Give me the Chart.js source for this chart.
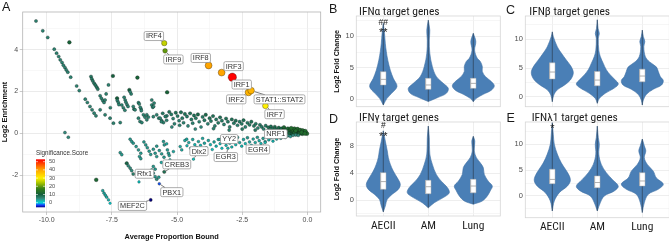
<!DOCTYPE html>
<html><head><meta charset="utf-8">
<script src="https://cdn.jsdelivr.net/npm/chart.js@4.4.1/dist/chart.umd.min.js"></script>
<style>
html,body{margin:0;padding:0;background:#fff;width:669px;height:242px;overflow:hidden;position:relative;}
canvas{position:absolute;}
</style></head><body>
<canvas id="cA" style="left:0;top:0" width="328" height="242"></canvas>
<canvas id="cB" style="left:328px;top:0" width="177" height="121"></canvas>
<canvas id="cC" style="left:505px;top:0" width="165" height="121"></canvas>
<canvas id="cD" style="left:328px;top:110px" width="177" height="132"></canvas>
<canvas id="cE" style="left:505px;top:110px" width="165" height="132"></canvas>
<script>
// ---------------- Panel A data: [Average Proportion Bound, Log2 Enrichment, Significance.Score]
const ptsUpperLeft = [
[-10.41,5.37,6],[-10.15,4.90,6],[-9.96,4.58,6],[-9.13,4.35,11],[-9.71,4.02,6],[-9.62,3.83,6],[-9.54,3.67,6],[-9.48,3.51,6],[-9.41,3.38,6],[-9.36,3.25,6],[-9.30,3.14,6],[-9.25,3.03,6],[-9.19,2.92,6],[-9.08,2.68,6],[-8.85,2.26,6],[-8.75,2.04,6],[-8.52,1.63,6],[-8.44,1.47,6],[-8.34,1.28,6],[-8.26,1.12,6],[-8.18,0.96,6],[-8.11,0.83,6],[-9.30,0.03,5],[-9.17,-0.19,5]
];
const ptsMiddle = [
[-8.30,2.71,7],[-8.27,2.60,7],[-8.23,2.50,7],[-8.18,2.39,7],[-8.13,2.30,7],[-8.08,2.20,7],[-8.04,2.11,7],[-7.95,1.79,6],[-7.90,1.67,6],[-7.85,1.56,6],[-7.80,1.47,6],[-7.76,1.59,6],[-7.63,2.31,6],[-7.46,2.74,10],[-7.56,1.22,6],[-7.30,1.67,10],[-7.12,1.35,6],[-7.06,1.22,6],[-6.83,2.07,10],[-6.76,1.88,6],[-6.65,1.15,6],[-6.52,2.66,11],[-6.48,1.46,6],[-6.38,1.16,6],[-5.97,1.35,6],[-5.93,1.24,6],[-5.88,1.44,6],[-5.38,1.96,11],[-7.72,1.88,6],[-7.95,1.12,6],[-7.76,0.88,6],[-7.57,0.72,6],[-7.44,0.48,6],[-7.29,1.56,6],[-7.25,1.47,6],[-7.23,1.37,6],[-7.03,1.72,6],[-6.99,1.59,6],[-6.96,1.48,6],[-6.92,1.37,6],[-6.88,1.28,6],[-6.80,1.98,6],[-6.68,1.28,6],[-6.61,1.12,6],[-6.45,1.40,6],[-6.41,1.24,6],[-6.37,1.08,6],[-6.29,0.88,6],[-6.23,0.77,6],[-5.97,1.59,6],[-5.90,1.28,6],[-5.78,0.88,6],[-5.70,0.72,6],[-6.16,0.64,6],[-7.18,0.51,6],[-7.00,1.10,6],[-6.48,0.72,6],[-6.42,0.56,6],[-6.35,0.51,6],[-6.16,0.88,6],[-6.10,0.77,6],[-5.91,0.79,6],[-5.65,0.72,6],[-5.59,0.60,6],[-5.52,0.51,6],[-5.39,0.83,6]
];
const ptsLowerLeft = [
[-6.80,-0.29,4],[-6.74,-0.40,4],[-6.68,-0.48,4],[-6.57,-0.64,4],[-6.48,-0.80,4],[-6.39,-0.96,4],[-6.27,-0.42,4],[-6.20,-0.56,4],[-6.14,-0.70,4],[-6.07,-0.86,4],[-6.01,-1.02,4],[-5.91,-0.77,4],[-5.84,-0.96,4],[-5.78,-1.12,4],[-7.18,-0.93,4],[-7.12,-1.03,4],[-6.93,-1.44,9],[-6.87,-1.56,5],[-6.80,-1.67,5],[-6.74,-1.79,5],[-6.46,-2.33,1],[-6.44,-1.12,4],[-6.39,-1.22,4],[-5.52,-0.40,4],[-5.49,-0.56,4],[-5.37,-0.80,4],[-5.33,-0.96,4],[-5.30,-1.07,4],[-5.97,-1.76,4],[-5.91,-1.91,4],[-5.84,-2.08,4],[-5.78,-2.20,5],[-5.70,-2.11,4],[-5.91,-1.59,4],[-5.84,-1.72,4],[-5.78,-0.62,4],[-5.68,-0.83,4],[-5.59,-0.99,4],[-5.50,-1.15,4],[-5.40,-0.51,3],[-5.27,-1.28,3],[-5.20,-1.44,3],[-4.88,-0.64,3],[-4.82,-0.80,3],[-5.14,-0.88,3],[-4.63,-0.29,3],[-5.45,-1.60,3],[-5.60,-1.40,3],[-8.10,-2.23,12],[-7.85,-2.75,3],[-7.80,-2.87,3],[-7.75,-2.97,3],[-7.70,-3.06,3],[-7.63,-3.19,2],[-7.57,-3.35,0]
];
const ptsUpperBand = [
[-5.55,0.95,7],[-5.45,0.80,7],[-5.40,0.62,6],[-5.30,1.02,8],[-5.22,0.90,7],[-5.15,0.70,6],[-5.10,0.45,6],[-5.05,0.98,8],[-4.98,0.82,7],[-4.92,0.60,6],[-4.85,1.00,8],[-4.80,0.72,7],[-4.75,0.50,6],[-4.70,0.92,8],[-4.62,0.80,7],[-4.58,0.35,5],[-4.50,0.95,8],[-4.45,0.66,7],[-4.40,0.48,6],[-4.35,0.85,8],[-4.28,0.72,7],[-4.20,0.90,9],[-4.15,0.55,6],[-4.08,0.30,5],[-4.02,0.78,7],[-3.95,0.62,7],[-3.90,0.88,9],[-3.82,0.45,6],[-3.75,0.72,8],[-3.70,0.58,7],[-3.62,0.82,8],[-3.55,0.35,6],[-3.50,0.66,7],[-3.42,0.50,7],[-3.35,0.76,8],[-3.28,0.60,7],[-3.20,0.42,6],[-3.12,0.70,8],[-3.05,0.55,7],[-2.98,0.30,6],[-2.90,0.66,8],[-2.82,0.48,7],[-2.75,0.60,8],[-2.68,0.38,6],[-2.60,0.55,7],[-2.52,0.45,7],[-2.45,0.62,8],[-2.38,0.30,6],[-2.30,0.50,7],[-2.22,0.40,7],[-2.15,0.55,8],[-2.05,0.35,7],[-1.98,0.45,7],[-1.90,0.25,6],[-1.82,0.40,7],[-1.75,0.30,7],[-1.68,0.20,6],[-1.60,0.36,7],[-5.60,0.55,6],[-5.20,0.30,5],[-4.90,0.38,6],[-4.30,0.20,5],[-3.60,0.22,6],[-3.00,0.15,6],[-2.50,0.20,7],[-2.00,0.15,7]
];
const ptsNearZero = [
[-1.50,0.28,8],[-1.45,0.15,7],[-1.40,0.32,8],[-1.35,0.22,8],[-1.30,0.10,7],[-1.25,0.30,9],[-1.20,0.18,8],[-1.15,0.05,7],[-1.10,0.26,9],[-1.05,0.14,8],[-1.00,0.22,9],[-0.95,0.08,8],[-0.90,0.28,12],[-0.85,0.16,12],[-0.80,0.02,10],[-0.75,0.22,12],[-0.70,0.10,12],[-0.65,0.18,13],[-0.60,0.05,12],[-0.55,0.14,13],[-0.50,0.22,13],[-0.45,0.08,13],[-0.40,0.16,13],[-0.35,0.02,12],[-0.30,0.12,13],[-0.25,0.06,13],[-0.20,0.10,13],[-0.15,0.02,13],[-0.10,0.05,13],[-0.05,0.01,13],[-0.02,-0.02,13],[-0.60,-0.05,10],[-0.40,-0.04,10],[-0.20,-0.03,12],[-0.90,-0.05,7],[-1.20,-0.06,6],[-0.12,0.08,13],[-0.30,-0.01,12],[-0.70,0.00,10],[-0.50,0.02,12],[-0.62,0.24,13],[-0.38,0.20,13],[-0.28,0.15,13],[-0.18,0.13,13],[-0.08,0.10,13],[-0.45,0.12,13],[-0.22,0.04,13],[-0.10,-0.01,13]
];
const ptsLowerBand = [
[-4.70,-0.35,3],[-4.62,-0.60,2],[-4.55,-0.45,3],[-4.48,-0.72,2],[-4.40,-0.30,3],[-4.32,-0.55,2],[-4.25,-0.68,2],[-4.18,-0.40,3],[-4.10,-0.58,2],[-4.02,-0.25,3],[-3.95,-0.48,3],[-3.88,-0.70,2],[-3.80,-0.35,3],[-3.72,-0.55,2],[-3.65,-0.78,1],[-3.58,-0.42,3],[-3.50,-0.62,2],[-3.42,-0.30,3],[-3.35,-0.50,2],[-3.28,-0.72,1],[-3.20,-0.40,3],[-3.12,-0.58,2],[-3.05,-0.25,3],[-2.98,-0.48,2],[-2.90,-0.66,2],[-2.82,-0.35,3],[-2.75,-0.55,2],[-2.68,-0.20,4],[-2.60,-0.45,3],[-2.52,-0.62,2],[-2.45,-0.30,3],[-2.38,-0.50,2],[-2.30,-0.22,4],[-2.22,-0.42,3],[-2.15,-0.58,2],[-2.08,-0.28,3],[-2.00,-0.45,3],[-1.92,-0.20,4],[-1.85,-0.36,3],[-1.78,-0.50,2],[-1.70,-0.25,4],[-1.62,-0.40,3],[-1.55,-0.18,4],[-1.48,-0.32,3],[-1.40,-0.22,4],[-1.32,-0.38,2],[-1.25,-0.15,5],[-1.18,-0.28,3],[-1.10,-0.12,5],[-1.02,-0.24,4],[-0.95,-0.10,5],[-0.85,-0.20,4],[-0.75,-0.12,5],[-0.65,-0.16,4],[-0.55,-0.10,5],[-0.45,-0.08,5],[-0.35,-0.10,5]
];
const geneNames = ['IRF4','IRF9','IRF8','IRF3','IRF1','IRF2','STAT1::STAT2','IRF7','NRF1','YY2','EGR4','EGR3','Dlx2','CREB3','Rfx1','PBX1','MEF2C'];
const geneX = [-5.49,-5.46,-3.79,-3.29,-2.88,-2.26,-2.16,-1.61,-0.95,-3.35,-1.62,-3.05,-4.37,-5.49,-6.68,-5.68,-6.01];
const geneY = [4.31,3.94,3.24,2.90,2.68,1.95,2.04,1.31,0.12,-0.30,-0.45,-0.72,-1.24,-1.85,-1.95,-2.42,-3.19];
const geneScore = [26,20,40,40,53,38,38,30,10,3,2,2,1,8,6,-2.5,-5.6];
const xTickVals = [-10,-8.75,-7.5,-6.25,-5,-3.75,-2.5,-1.25,0];
const yTickVals = [-3,-2,-1,0,1,2,3,4,5];
const legendTicks = [0,10,20,30,40,50];

// ---------------- Violin data (categories; outlines as [y, half-width]; box stats)
const categories = ['AECII','AM','Lung'];
const ifnaAECII = [[-0.96,0],[0.1,3.7],[0.9,8.3],[2.0,13.7],[3.3,10],[4.6,7],[6.2,4.5],[7.6,3],[8.9,2],[10.5,1.2],[12.1,0]];
const ifnaAM    = [[-0.4,0],[0.27,10],[0.9,18],[1.7,20],[2.5,15],[3.6,8],[5.2,4],[7.3,1.5],[9.4,1],[11.0,1.5],[12.6,0]];
const ifnaLung  = [[-0.43,0],[0.1,3],[0.75,10],[1.4,18],[2.1,21],[2.8,18],[3.6,12],[4.4,9],[5.2,9],[6.0,7],[6.5,4],[7.8,1.3],[9.2,2.5],[10.5,0]];
const ifnbAECII = [[-0.87,0],[0.3,1.5],[1.2,5],[2.0,12],[2.9,18],[4.1,21],[5.2,19],[6.4,14],[7.6,9],[8.7,5],[10.5,1],[11.3,0]];
const ifnbAM    = [[-1.15,0],[-0.3,2],[0.6,8],[1.5,17],[2.2,21],[2.9,18],[3.8,13],[4.7,9],[5.8,6],[7.0,3],[8.1,1.5],[10.2,1],[11.0,2],[11.9,0.8],[13.4,0]];
const ifnbLung  = [[-1.45,0],[-0.6,1],[0.4,4],[1.3,11],[2.0,19],[2.8,21],[3.5,18],[4.4,16],[5.2,14],[6.1,7],[7.0,3],[8.7,1.5],[9.6,2.5],[10.5,1],[11.6,0]];
const ifngAECII = [[-1.7,0],[-0.84,2],[0.15,4],[0.9,9],[1.6,15],[2.35,17],[3.3,14],[4.3,10],[5.3,7],[6.3,5],[7.25,4],[8.7,2],[10.2,0]];
const ifngAM    = [[-1.1,0],[-0.35,6],[0.4,15],[1.1,21],[1.9,19],[2.8,13],[3.8,8],[5.3,4],[6.8,1.5],[9.2,1],[10.9,0]];
const ifngLung  = [[-0.57,0],[-0.1,9],[0.63,14],[1.4,17],[2.1,19],[2.8,15],[3.8,11],[4.8,10],[5.5,7],[6.3,3],[7.25,1],[8.7,1.5],[9.4,0]];
const ifnlAECII = [[-2.9,0],[-0.97,2],[0.64,7],[1.9,15],[2.9,18],[3.9,17],[5.2,13],[6.4,9],[8.1,5],[10.0,2],[11.9,1],[14.2,0]];
const ifnlAM    = [[-2.9,0],[-1.3,3],[0.0,7],[0.97,17],[1.9,21],[3.2,15],[4.5,9],[6.1,4],[8.1,1.5],[10.0,2],[11.3,1],[13.5,0]];
const ifnlLung  = [[-3.2,0],[-1.3,2],[0.33,6],[1.3,16],[2.3,21],[3.5,14],[4.8,11],[6.1,5],[7.4,2],[8.7,3.5],[9.7,2],[11.0,0]];
const ifnaQ1 = [2.24,1.55,1.7], ifnaMed = [3.14,2.24,2.5], ifnaQ3 = [4.36,3.3,3.3];
const ifnbQ1 = [3.1,1.9,2.6],   ifnbMed = [4.3,2.9,3.6],   ifnbQ3 = [5.9,4.4,4.8];
const ifngQ1 = [1.62,0.97,1.1], ifngMed = [2.75,2.0,2.1],  ifngQ3 = [4.06,2.94,3.08];
const ifnlQ1 = [2.38,1.6,1.93], ifnlMed = [3.2,2.6,2.9],   ifnlQ3 = [5.16,3.87,4.5];

// ---------------- styling helpers
const SANS = "'Liberation Sans', Arial, sans-serif";
const NARROW = "'Liberation Sans Narrow', 'Roboto Condensed', Roboto, 'Liberation Sans', sans-serif";
const cmapStops = [[-5.6,[0,0,128]],[-3,[20,60,255]],[0,[0,215,215]],[5,[50,140,125]],[10,[20,95,60]],[17,[50,125,25]],[24,[165,195,0]],[30,[255,240,0]],[40,[255,165,0]],[53,[255,0,0]]];
function cmap(s){
  if (s <= cmapStops[0][0]) return 'rgb('+cmapStops[0][1].join(',')+')';
  for (let i=1;i<cmapStops.length;i++){
    const [s1,c1]=cmapStops[i];
    if (s <= s1){ const [s0,c0]=cmapStops[i-1]; const t=(s-s0)/(s1-s0);
      return 'rgb('+c0.map((v,k)=>Math.round(v+(c1[k]-v)*t)).join(',')+')'; }
  }
  return 'rgb(255,0,0)';
}
const radiusFor = s => 1.25 + 0.055*Math.abs(s);
const allBg = [].concat(ptsUpperLeft, ptsMiddle, ptsLowerLeft, ptsUpperBand, ptsNearZero, ptsLowerBand);
const labelLayout = [[-5.89,4.65],[-5.14,3.53],[-4.09,3.60],[-2.83,3.21],[-2.52,2.33],[-2.73,1.62],[-1.07,1.62],[-1.26,0.91],[-1.21,-0.04],[-3.0,-0.28],[-1.90,-0.78],[-3.13,-1.14],[-4.16,-0.86],[-5.01,-1.49],[-6.25,-1.94],[-5.20,-2.82],[-6.71,-3.48]];

const isMajorX = v => Math.abs(v/2.5 - Math.round(v/2.5)) < 1e-6;
const isMajorY = v => Math.abs(v/2 - Math.round(v/2)) < 1e-6;

const panelAPlugin = {
  id:'panelA',
  afterDatasetsDraw(chart){
    const {ctx, scales:{x,y}} = chart;
    ctx.save();
    ctx.font = '7.3px '+SANS;
    const boxes = geneNames.map((name,i)=>{
      const px=x.getPixelForValue(geneX[i]), py=y.getPixelForValue(geneY[i]);
      const lx=x.getPixelForValue(labelLayout[i][0]), ly=y.getPixelForValue(labelLayout[i][1]);
      const w=ctx.measureText(name).width+3.6, h=9;
      return {name,px,py,lx,ly,w,h,r:radiusFor(geneScore[i])};
    });
    ctx.strokeStyle='#222'; ctx.lineWidth=0.6;
    boxes.forEach(b=>{
      const dx=b.px-b.lx, dy=b.py-b.ly;
      const t=Math.min(dx?(b.w/2)/Math.abs(dx):Infinity, dy?(b.h/2)/Math.abs(dy):Infinity);
      if (t<1){
        const sx=b.lx+dx*t, sy=b.ly+dy*t;
        const len=Math.hypot(b.px-sx,b.py-sy);
        if (len>3){
          const ex=b.px-(b.px-sx)/len*(b.r+0.5), ey=b.py-(b.py-sy)/len*(b.r+0.5);
          ctx.beginPath(); ctx.moveTo(sx,sy); ctx.lineTo(ex,ey); ctx.stroke();
        }
      }
    });
    boxes.forEach(b=>{
      ctx.beginPath(); ctx.roundRect(b.lx-b.w/2, b.ly-b.h/2, b.w, b.h, 1.5);
      ctx.fillStyle='#fff'; ctx.fill(); ctx.strokeStyle='#8a8a8a'; ctx.lineWidth=0.7; ctx.stroke();
      ctx.fillStyle='#333'; ctx.textAlign='center'; ctx.textBaseline='middle';
      ctx.fillText(b.name, b.lx, b.ly+0.4);
    });
    ctx.restore();
  },
  afterDraw(chart){
    const {ctx, chartArea:a} = chart;
    ctx.save();
    ctx.strokeStyle='#b3b3b3'; ctx.lineWidth=0.8;
    ctx.strokeRect(a.left, a.top, a.right-a.left, a.bottom-a.top);
    ctx.fillStyle='#111'; ctx.font='bold 7.4px '+SANS; ctx.textAlign='center'; ctx.textBaseline='middle';
    ctx.fillText('Average Proportion Bound', (a.left+a.right)/2, 237);
    ctx.save(); ctx.translate(5,(a.top+a.bottom)/2); ctx.rotate(-Math.PI/2);
    ctx.fillText('Log2 Enrichment',0,0); ctx.restore();
    ctx.font='12.5px '+SANS; ctx.textAlign='left'; ctx.textBaseline='alphabetic'; ctx.fillStyle='#111';
    ctx.fillText('A', 2, 10.5);
    const bx=36, bw=9, top=159.3, bot=207.3, smin=-5.6, smax=52.9;
    ctx.font='6.3px '+SANS; ctx.fillStyle='#333'; ctx.textBaseline='middle';
    ctx.fillText('Significance.Score', bx, 153);
    const g=ctx.createLinearGradient(0,bot,0,top);
    cmapStops.forEach(([s,c])=>{ const t=Math.min(1,Math.max(0,(s-smin)/(smax-smin))); g.addColorStop(t,'rgb('+c.join(',')+')'); });
    ctx.fillStyle=g; ctx.fillRect(bx,top,bw,bot-top);
    ctx.font='5.6px '+SANS; ctx.fillStyle='#4d4d4d';
    legendTicks.forEach(s=>{
      const yy=bot-(s-smin)/(smax-smin)*(bot-top);
      ctx.strokeStyle='#fff'; ctx.lineWidth=0.6;
      ctx.beginPath(); ctx.moveTo(bx,yy); ctx.lineTo(bx+2,yy); ctx.moveTo(bx+bw-2,yy); ctx.lineTo(bx+bw,yy); ctx.stroke();
      ctx.fillText(String(s), bx+bw+4, yy);
    });
    ctx.restore();
  }
};

new Chart(document.getElementById('cA'), {
  type:'scatter',
  data:{datasets:[
    {data: geneNames.map((n,i)=>({x:geneX[i],y:geneY[i]})), order:1,
     pointBackgroundColor: ctx=>cmap(geneScore[ctx.dataIndex]), pointRadius: ctx=>radiusFor(geneScore[ctx.dataIndex]),
     pointBorderColor:'rgba(40,30,20,0.7)', pointBorderWidth:0.5},
    {data: allBg.map(p=>({x:p[0],y:p[1]})), order:2,
     pointBackgroundColor: ctx=>cmap(allBg[ctx.dataIndex][2]), pointRadius: ctx=>radiusFor(allBg[ctx.dataIndex][2]),
     pointBorderColor:'rgba(15,25,25,0.65)', pointBorderWidth:0.5}
  ]},
  options:{
    responsive:false, animation:false, devicePixelRatio:1, events:[],
    layout:{padding:{left:0,top:12,right:7.3,bottom:0}},
    plugins:{legend:{display:false}, tooltip:{enabled:false}},
    scales:{
      x:{type:'linear', min:-10.92, max:0.51,
        afterBuildTicks:s=>{s.ticks=xTickVals.map(v=>({value:v}));},
        ticks:{autoSkip:false, maxRotation:0, padding:1, color:'#4d4d4d', font:{size:7, family:SANS},
          callback:v=>isMajorX(v)?v.toFixed(1):''},
        grid:{color:c=>isMajorX(c.tick.value)?'#e2e2e2':'#f0f0f0', lineWidth:c=>isMajorX(c.tick.value)?0.7:0.5,
          tickColor:c=>isMajorX(c.tick.value)?'#b3b3b3':'rgba(0,0,0,0)', tickLength:3},
        border:{display:false},
        afterFit:s=>{s.height=30;}},
      y:{type:'linear', min:-3.77, max:5.8,
        afterBuildTicks:s=>{s.ticks=yTickVals.map(v=>({value:v}));},
        ticks:{autoSkip:false, padding:1.5, color:'#4d4d4d', font:{size:7, family:SANS},
          callback:v=>isMajorY(v)?String(v):''},
        grid:{color:c=>isMajorY(c.tick.value)?'#e2e2e2':'#f0f0f0', lineWidth:c=>isMajorY(c.tick.value)?0.7:0.5,
          tickColor:c=>isMajorY(c.tick.value)?'#b3b3b3':'rgba(0,0,0,0)', tickLength:3},
        border:{display:false},
        afterFit:s=>{s.width=22.7;}}
    }
  },
  plugins:[panelAPlugin]
});

// ---------------- violins
const VIOLIN='#4a7fb6', VIOLIN_EDGE='#3f71a5', PX_PER_CAT=45, BOX_HALF=2.7/45;
function violinPoly(c, prof){
  const right=prof.map(([y,w])=>({x:c+w/PX_PER_CAT,y}));
  const left=prof.slice().reverse().map(([y,w])=>({x:c-w/PX_PER_CAT,y}));
  return right.concat(left);
}
function violinDatasets(profiles,q1,med,q3){
  const ds=[];
  profiles.forEach((prof,i)=>{
    const c=i+1;
    ds.push({data:violinPoly(c,prof), showLine:true, fill:'shape', backgroundColor:VIOLIN, borderColor:VIOLIN_EDGE, borderWidth:0.6, pointRadius:0, tension:0.35, order:4});
    ds.push({data:[{x:c,y:prof[0][0]},{x:c,y:prof[prof.length-1][0]}], showLine:true, borderColor:'rgba(30,30,30,0.75)', borderWidth:0.6, pointRadius:0, order:3});
    ds.push({data:[{x:c-BOX_HALF,y:q1[i]},{x:c+BOX_HALF,y:q1[i]},{x:c+BOX_HALF,y:q3[i]},{x:c-BOX_HALF,y:q3[i]},{x:c-BOX_HALF,y:q1[i]}], showLine:true, fill:'shape', backgroundColor:'#ffffff', borderColor:'#b0b0b0', borderWidth:0.5, pointRadius:0, tension:0, order:2});
    ds.push({data:[{x:c-BOX_HALF,y:med[i]},{x:c+BOX_HALF,y:med[i]}], showLine:true, borderColor:'#9a9a9a', borderWidth:0.8, pointRadius:0, order:1});
  });
  return ds;
}
function makeViolin(id,cfg){
  const plugin={
    id:'txt'+cfg.letter,
    afterDraw(chart){
      const {ctx, chartArea:a, scales:{x,y}}=chart;
      ctx.save();
      ctx.strokeStyle='#d6d6d6'; ctx.lineWidth=0.8;
      ctx.strokeRect(a.left,a.top,a.right-a.left,a.bottom-a.top);
      ctx.fillStyle='#1a1a1a'; ctx.textAlign='left'; ctx.textBaseline='alphabetic';
      ctx.font='11.5px '+NARROW; ctx.fillText(cfg.title, cfg.titleX, cfg.titleY);
      ctx.font='12.5px '+SANS; ctx.fillText(cfg.letter, cfg.letterX, cfg.letterY);
      ctx.textAlign='center'; ctx.textBaseline='middle';
      cfg.marks.forEach(([t,cat,val,sz])=>{ ctx.font=sz+'px '+SANS; ctx.fillText(t, x.getPixelForValue(cat), y.getPixelForValue(val)); });
      if (cfg.yTitle){
        ctx.save(); ctx.translate(cfg.yTitleX,(a.top+a.bottom)/2); ctx.rotate(-Math.PI/2);
        ctx.font='bold 7.2px '+SANS; ctx.fillStyle='#111'; ctx.fillText(cfg.yTitle,0,0); ctx.restore();
      }
      ctx.restore();
    }
  };
  const major=v=>Math.abs(v/cfg.major-Math.round(v/cfg.major))<1e-6;
  new Chart(document.getElementById(id),{
    type:'scatter',
    data:{datasets:violinDatasets(cfg.profiles,cfg.q1,cfg.med,cfg.q3)},
    options:{
      responsive:false, animation:false, devicePixelRatio:1, events:[],
      layout:{padding:{left:0,top:cfg.top,right:cfg.right,bottom:0}},
      plugins:{legend:{display:false}, tooltip:{enabled:false}},
      scales:{
        x:{type:'linear', min:0.4, max:3.6,
          afterBuildTicks:s=>{s.ticks=[1,2,3].map(v=>({value:v}));},
          ticks:{display:cfg.showX, autoSkip:false, maxRotation:0, padding:3, color:'#1a1a1a', font:{size:11.5, family:NARROW},
            callback:v=>categories[Math.round(v)-1]},
          grid:{color:'#e6e6e6', lineWidth:0.7, drawTicks:false},
          border:{display:false},
          afterFit:s=>{s.height=cfg.xH;}},
        y:{type:'linear', min:cfg.yMin, max:cfg.yMax,
          afterBuildTicks:s=>{s.ticks=cfg.yTicks.map(v=>({value:v}));},
          ticks:{autoSkip:false, padding:2.5, color:'#4d4d4d', font:{size:7.5, family:SANS},
            callback:v=>major(v)?String(v):''},
          grid:{color:c=>major(c.tick.value)?'#e6e6e6':'#f2f2f2', lineWidth:0.7, drawTicks:false},
          border:{display:false},
          afterFit:s=>{s.width=cfg.yW;}}
      }
    },
    plugins:[plugin]
  });
}
makeViolin('cB',{letter:'B', letterX:1, letterY:13, title:'IFN\u03B1 target genes', titleX:31, titleY:14.5,
  profiles:[ifnaAECII,ifnaAM,ifnaLung], q1:ifnaQ1, med:ifnaMed, q3:ifnaQ3,
  yMin:-1.23, yMax:13.26, yTicks:[0,2.5,5,7.5,10,12.5], major:5,
  top:16, right:4.7, yW:28.3, xH:14.3, showX:false, yTitle:'Log2 Fold Change', yTitleX:9,
  marks:[['##',1,12.2,8.5],['**',1,10.6,11]]});
makeViolin('cC',{letter:'C', letterX:1, letterY:14, title:'IFN\u03B2 target genes', titleX:24.3, titleY:14.5,
  profiles:[ifnbAECII,ifnbAM,ifnbLung], q1:ifnbQ1, med:ifnbMed, q3:ifnbQ3,
  yMin:-1.74, yMax:14.06, yTicks:[0,2.5,5,7.5,10,12.5], major:5,
  top:16, right:0.7, yW:20.3, xH:14.3, showX:false, yTitle:null, marks:[]});
makeViolin('cD',{letter:'D', letterX:1, letterY:12.7, title:'IFN\u03B3 target genes', titleX:31, titleY:11,
  profiles:[ifngAECII,ifngAM,ifngLung], q1:ifngQ1, med:ifngMed, q3:ifngQ3,
  yMin:-2.3, yMax:11.5, yTicks:[-2,0,2,4,6,8,10], major:4,
  top:12, right:4.7, yW:28.3, xH:26, showX:true, yTitle:'Log2 Fold Change', yTitleX:9,
  marks:[['#',1,10.9,8.5],['**',1,9.3,11]]});
makeViolin('cE',{letter:'E', letterX:1.5, letterY:11.7, title:'IFN\u03BB1 target genes', titleX:26.7, titleY:11,
  profiles:[ifnlAECII,ifnlAM,ifnlLung], q1:ifnlQ1, med:ifnlMed, q3:ifnlQ3,
  yMin:-4.2, yMax:14.3, yTicks:[-2.5,0,2.5,5,7.5,10,12.5], major:5,
  top:12, right:0.7, yW:20.3, xH:24.3, showX:true, yTitle:null, marks:[['*',1,13.0,11]]});
</script>
</body></html>
